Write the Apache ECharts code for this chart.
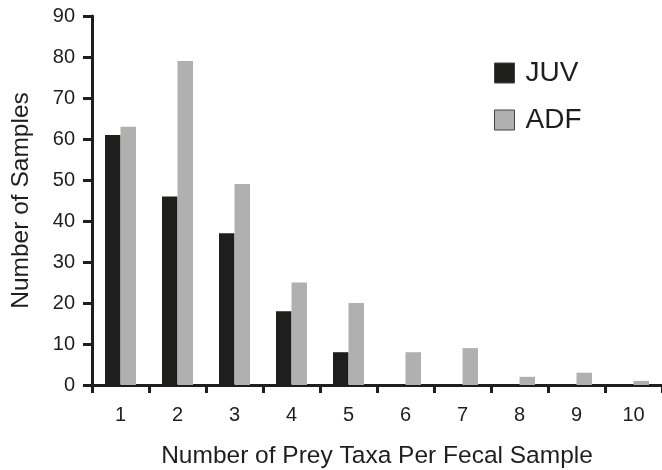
<!DOCTYPE html>
<html>
<head>
<meta charset="utf-8">
<script src="https://cdn.jsdelivr.net/npm/echarts@6/dist/echarts.min.js"></script>
<style>
  html, body { margin: 0; padding: 0; background: #fff; }
  #chart { width: 662px; height: 470px; }
</style>
</head>
<body>
<div id="chart"></div>
<script>
var categories = ['1', '2', '3', '4', '5', '6', '7', '8', '9', '10'];
var juvValues = [61, 46, 37, 18, 8, 0, 0, 0, 0, 0];
var adfValues = [63, 79, 49, 25, 20, 8, 9, 2, 3, 1];

var myChart = echarts.init(document.getElementById('chart'));

var font = 'Liberation Sans, Arial, sans-serif';

var option = {
	backgroundColor: '#ffffff',
	animation: false,
	grid: {
		left: 92,
		right: 0,
		top: 16,
		bottom: 85,
		outerBoundsMode: 'none',
		containLabel: false
	},
	legend: {
		orient: 'vertical',
		left: 489,
		top: 54,
		itemWidth: 20,
		itemHeight: 20,
		itemGap: 19,
		icon: 'rect',
		itemStyle: { borderColor: '#444', borderWidth: 1 },
		textStyle: {
			fontFamily: font,
			fontSize: 28,
			color: '#1e1e1e',
			padding: [0, 0, 0, 6]
		},
		data: ['JUV', 'ADF']
	},
	xAxis: {
		type: 'category',
		data: categories,
		name: 'Number of Prey Taxa Per Fecal Sample',
		nameLocation: 'middle',
		nameGap: 59,
		nameTextStyle: { fontFamily: font, fontSize: 24.5, color: '#1e1e1e' },
		axisLine: { lineStyle: { color: '#1e1e1e', width: 3 } },
		axisTick: { show: true, length: 8, lineStyle: { color: '#1e1e1e', width: 3 } },
		axisLabel: { fontFamily: font, fontSize: 20, color: '#1e1e1e', margin: 20 },
		splitLine: { show: false }
	},
	yAxis: {
		type: 'value',
		min: 0,
		max: 90,
		interval: 10,
		name: 'Number of Samples',
		nameLocation: 'middle',
		nameGap: 58,
		nameTextStyle: { fontFamily: font, fontSize: 24.5, color: '#1e1e1e' },
		axisLine: { show: true, lineStyle: { color: '#1e1e1e', width: 3 } },
		axisTick: { show: true, length: 9, lineStyle: { color: '#1e1e1e', width: 3 } },
		axisLabel: { fontFamily: font, fontSize: 20, color: '#1e1e1e', margin: 17 },
		splitLine: { show: false }
	},
	series: [
		{
			name: 'JUV',
			type: 'bar',
			data: juvValues,
			barWidth: 15.5,
			barGap: '0%',
			itemStyle: { color: '#1e1e1c' }
		},
		{
			name: 'ADF',
			type: 'bar',
			data: adfValues,
			barWidth: 15.5,
			barGap: '0%',
			itemStyle: { color: '#b0b0b0' }
		}
	]
};

myChart.setOption(option);
</script>
</body>
</html>
